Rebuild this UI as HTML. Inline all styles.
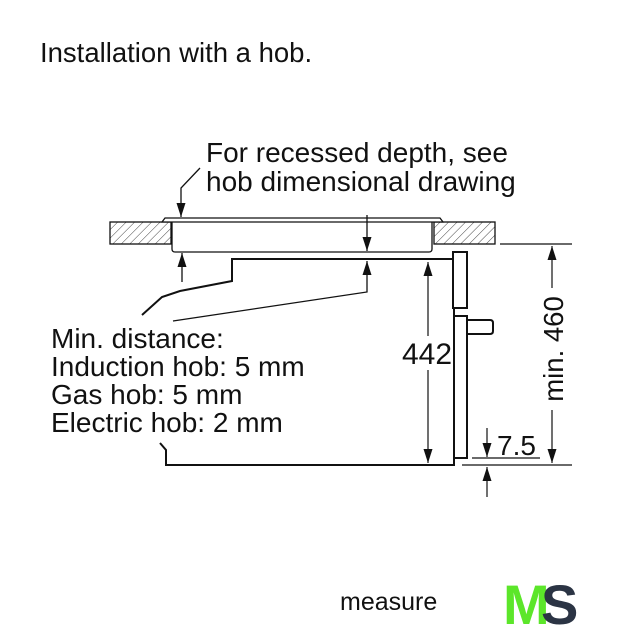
<!DOCTYPE html>
<html><head><meta charset="utf-8"><style>
html,body{margin:0;padding:0;background:#fff}
svg{display:block}
text{font-family:"Liberation Sans",sans-serif;fill:#111}
</style></head><body>
<svg width="640" height="640" viewBox="0 0 640 640" xmlns="http://www.w3.org/2000/svg">
<defs>
<pattern id="h" width="6" height="6" patternUnits="userSpaceOnUse" patternTransform="rotate(45)">
<line x1="0" y1="0" x2="0" y2="6" stroke="#444" stroke-width="1"/>
</pattern>
<marker id="a" viewBox="0 0 10 10" refX="10" refY="5" markerWidth="14" markerHeight="9" markerUnits="userSpaceOnUse" orient="auto" preserveAspectRatio="none">
<path d="M0,0 L10,5 L0,10 z" fill="#111"/>
</marker>
</defs>
<rect width="640" height="640" fill="#fff"/>
<text x="40" y="62" font-size="27.5">Installation with a hob.</text>
<text x="206" y="162" font-size="28">For recessed depth, see</text>
<text x="206" y="191" font-size="28">hob dimensional drawing</text>

<g stroke="#111" fill="none" stroke-width="1.3">
<rect x="110" y="222" width="61" height="22" fill="url(#h)"/>
<rect x="434" y="222" width="61" height="22" fill="url(#h)"/>
<path d="M162,222 L165,218 L440,218 L443,222 Z" fill="#fff"/>
<path d="M172,222 L172,249 Q172,252 175,252 L429,252 Q432,252 432,249 L432,222"/>
<polyline points="200,168 181,188 181,217" marker-end="url(#a)"/>
<line x1="182" y1="282" x2="182" y2="253" marker-end="url(#a)"/>
<line x1="367" y1="215" x2="367" y2="251" marker-end="url(#a)"/>
<polyline points="173,321 367,292 367,261" marker-end="url(#a)"/>
</g>
<g stroke="#111" fill="none" stroke-width="2">
<polyline points="453,259 232,259 232,281 180,291 162,297 142,315"/>
<polyline points="160,443 166,450 166,465 455,465"/>
<rect x="453" y="252" width="14" height="56"/>
<polyline points="454,308 454,316 467,316 467,458 455,458"/>
<line x1="454" y1="316" x2="454" y2="465"/>
<path d="M467,320 L490,320 Q493,320 493,323 L493,331 Q493,334 490,334 L467,334"/>
</g>
<g stroke="#111" fill="none" stroke-width="1.2">
<line x1="428" y1="336" x2="428" y2="262" marker-end="url(#a)"/>
<line x1="428" y1="370" x2="428" y2="463" marker-end="url(#a)"/>
<line x1="500" y1="244" x2="572" y2="244"/>
<line x1="462" y1="465" x2="572" y2="465"/>
<line x1="552" y1="288" x2="552" y2="246" marker-end="url(#a)"/>
<line x1="552" y1="410" x2="552" y2="463" marker-end="url(#a)"/>
<line x1="472" y1="458" x2="540" y2="458"/>
<line x1="487" y1="428" x2="487" y2="457" marker-end="url(#a)"/>
<line x1="487" y1="497" x2="487" y2="467" marker-end="url(#a)"/>
</g>
<text x="402" y="364" font-size="30">442</text>
<text x="497" y="455" font-size="28">7.5</text>
<text transform="translate(563,349) rotate(-90)" text-anchor="middle" font-size="27.5">min. 460</text>
<text x="51" y="348" font-size="28">Min. distance:</text>
<text x="51" y="376" font-size="28">Induction hob: 5 mm</text>
<text x="51" y="404" font-size="28">Gas hob: 5 mm</text>
<text x="51" y="432" font-size="28">Electric hob: 2 mm</text>
<text x="340" y="610" font-size="25">measure</text>
<rect x="440" y="585" width="60" height="35" fill="#fff"/>
<text x="503" y="624" font-size="56" font-weight="bold" style="fill:#5ce62a" letter-spacing="-8">M</text>
<text x="541" y="624" font-size="56" font-weight="bold" style="fill:#2b3444">S</text>
</svg>
</body></html>
